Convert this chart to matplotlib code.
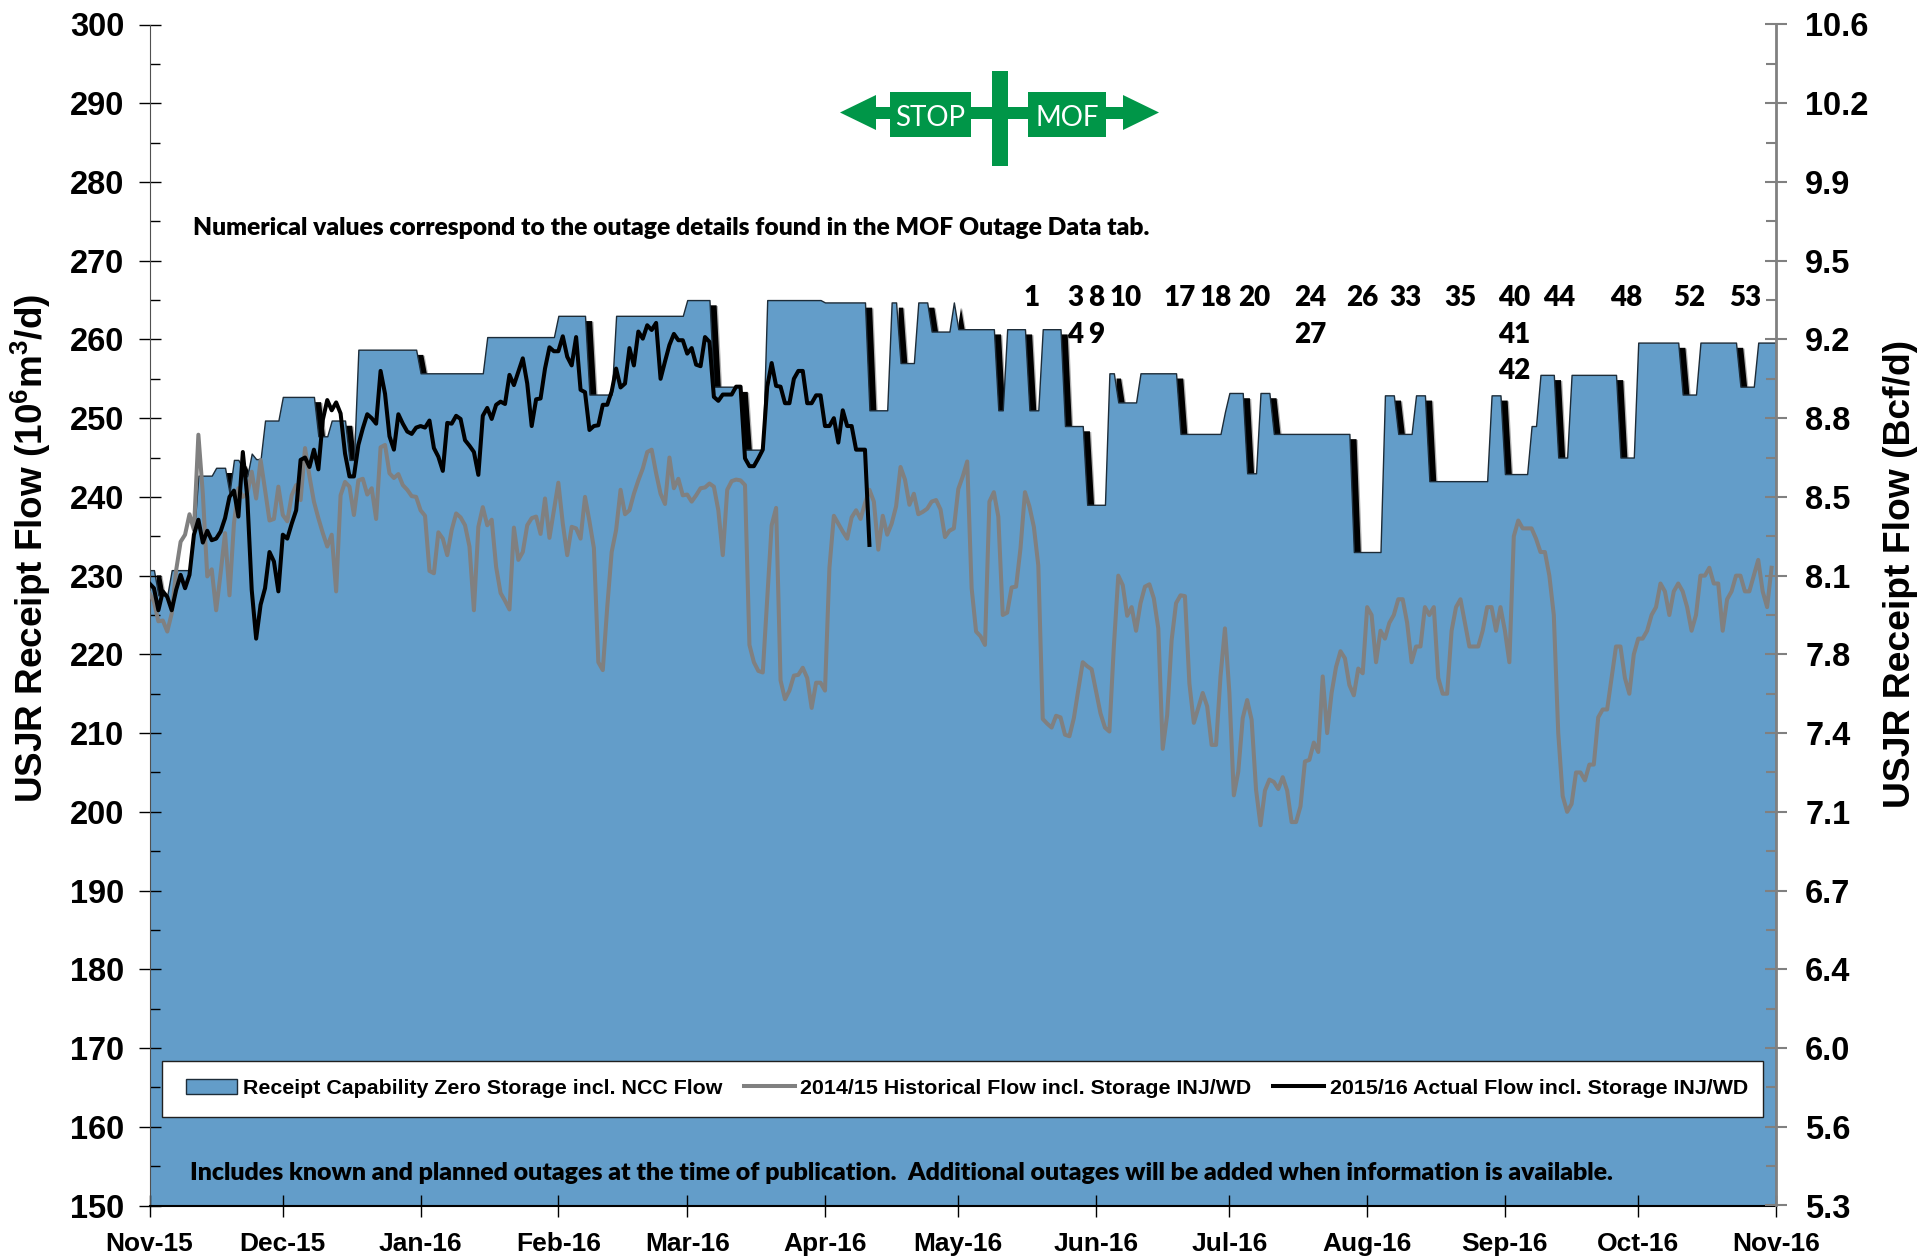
#!/usr/bin/env python
# -*- coding: utf-8 -*-

import numpy as np
import matplotlib
matplotlib.use('Agg')
import matplotlib.pyplot as plt
from matplotlib.patches import Patch, Polygon, Rectangle
from matplotlib.lines import Line2D

plt.rcParams['font.family'] = 'Liberation Sans'
plt.rcParams['font.weight'] = 'bold'
plt.rcParams['mathtext.fontset'] = 'custom'
plt.rcParams['mathtext.bf'] = 'Liberation Sans:bold'
plt.rcParams['mathtext.rm'] = 'Liberation Sans:bold'

W, H = 1921, 1257

month_labels = ['Nov-15', 'Dec-15', 'Jan-16', 'Feb-16', 'Mar-16', 'Apr-16', 'May-16',
                'Jun-16', 'Jul-16', 'Aug-16', 'Sep-16', 'Oct-16', 'Nov-16']
month_days = [0, 30, 61, 92, 121, 152, 182, 213, 243, 274, 305, 335, 366]

# Capability outline, days since 1 Nov 2015
cap_days = [0, 1, 2, 4, 5, 9, 10, 11, 14, 15, 17, 18, 19, 20, 22, 23, 24, 25, 26, 29, 30, 37, 38, 40, 41, 44, 45,
            46, 47, 60, 61, 75, 76, 91, 92, 98, 99, 104, 105, 120, 121, 126, 127, 133, 134, 138, 139, 151, 152,
            161, 162, 166, 167, 168, 169, 172, 173, 175, 176, 180, 181, 182, 190, 191, 192, 193, 197, 198, 200,
            201, 205, 206, 210, 211, 215, 216, 217, 218, 222, 223, 231, 232, 241, 242, 243, 246, 247, 249, 250,
            252, 253, 270, 271, 277, 278, 280, 281, 284, 285, 287, 288, 301, 302, 304, 305, 310, 311, 312, 313,
            316, 317, 319, 320, 330, 331, 334, 335, 344, 345, 348, 349, 357, 358, 361, 362, 366]
cap_vals = [230.7, 230.7, 227.5, 227.5, 230.7, 230.7, 235.3, 242.7, 242.7, 243.7, 243.7, 240.5, 244.7, 244.7, 242.6,
            245.5, 244.8, 244.8, 249.7, 249.7, 252.7, 252.7, 247.7, 247.7, 249.7, 249.7, 244.7,
            244.7, 258.7, 258.7, 255.7, 255.7, 260.3, 260.3, 263, 263, 253, 253, 263, 263, 265, 265, 254, 254, 246,
            246, 265, 265, 264.7,
            264.7, 251, 251, 264.7, 264.7, 257, 257, 264.7, 264.7, 261, 261, 264.7, 261.3, 261.3, 251, 251, 261.3,
            261.3, 251, 251,
            261.3, 261.3, 249, 249, 239, 239, 255.7, 255.7, 252, 252, 255.7, 255.7, 248, 248, 250.8, 253.2, 253.2,
            243, 243, 253.2,
            253.2, 248, 248, 233, 233, 252.9, 252.9, 248, 248, 252.9, 252.9, 242, 242, 252.9, 252.9, 242.9, 242.9,
            249, 249, 255.5,
            255.5, 245, 245, 255.5, 255.5, 245, 245, 259.6, 259.6, 253, 253, 259.6, 259.6, 254, 254, 259.6, 259.6]

# 2014/15 historical flow, one value per day
hist_flow = [227.8, 226.7, 224.2, 224.3, 222.9, 225.2, 230.7, 234.3, 235.2, 237.8,
             235.8, 247.9, 240.4, 229.9, 230.8, 225.6, 230.3, 235.4, 227.5, 236.6,
             241.1, 240, 240.4, 243.2, 239.8, 244.7, 240.9, 237, 237.2, 241.3,
             237.7, 236.9, 240.2, 241.5, 239.6, 246.2, 242.6, 239.4, 237.3, 235.4,
             233.7, 235.2, 228, 240.2, 241.9, 241.3, 237.7, 242.1, 242.3, 240.3,
             241.1, 237.2, 246.3, 246.6, 243, 242.4, 242.9, 241.5, 240.9, 240.1,
             240, 238.3, 237.6, 230.6, 230.3, 235.5, 234.7, 232.6, 235.8, 237.9,
             237.4, 236.4, 233.7, 225.6, 236.2, 238.7, 236.4, 237.1, 231.1, 227.8,
             226.8, 225.7, 236.1, 232, 233, 236.4, 237.3, 237.5, 235.3, 239.8,
             234.8, 238.3, 241.8, 236.6, 232.6, 236.2, 236, 234.7, 240, 236.9,
             233.5, 219, 218, 226, 233, 235.8, 240.9, 237.8, 238.3, 240.4,
             242.1, 243.6, 245.7, 246, 243, 240.4, 239.1, 245, 241.1, 242.3,
             240.2, 240.3, 239.4, 240.2, 241.1, 241.2, 241.7, 241.3, 238.3, 232.6,
             240.9, 242, 242.2, 242.1, 241.5, 221.2, 219, 217.9, 217.7, 227,
             236.4, 238.6, 216.7, 214.3, 215.4, 217.3, 217.4, 218.3, 217, 213.2,
             216.4, 216.4, 215.4, 231, 237.6, 236.6, 235.6, 234.7, 237.4, 238.3,
             237.2, 239.2, 240.9, 239.4, 233.3, 237.6, 235.2, 236.6, 238.8, 243.8,
             242.2, 239, 240.4, 237.8, 238.1, 238.5, 239.4, 239.6, 238.4, 234.9,
             235.7, 236, 241, 242.6, 244.5, 228.4, 222.9, 222.3, 221.2, 239.4,
             240.6, 237.5, 225, 225.3, 228.5, 228.6, 233.5, 240.6, 238.8, 236.2,
             231.3, 211.8, 211.2, 210.7, 212.2, 212, 209.8, 209.6, 211.9, 215.5,
             219, 218.5, 218.1, 215.3, 212.5, 210.7, 210.2, 221, 230, 228.8,
             224.9, 226, 223, 226.5, 228.6, 228.9, 227.1, 223.3, 208, 212.3,
             221.8, 226.5, 227.5, 227.4, 216.3, 211.3, 213.2, 215.1, 213.4, 208.5,
             208.5, 217.2, 223.3, 215.1, 202.1, 205.1, 211.9, 214.2, 211.7, 202.8,
             198.3, 202.7, 204.1, 203.8, 202.9, 204.4, 202.7, 198.7, 198.7, 200.7,
             206.4, 206.6, 208.8, 207.6, 217.2, 210, 215.1, 218.4, 220.4, 219.5,
             216.1, 214.8, 218.2, 217.6, 226, 225, 219, 223, 222, 224,
             225, 227, 227, 224, 219, 221, 221, 226, 225, 226,
             217, 215, 215, 223, 226, 227, 224, 221, 221, 221,
             223, 226, 226, 223, 226, 223, 219, 235, 237, 236,
             236, 236, 234.7, 233, 233, 230, 225, 210, 202, 200,
             201, 205, 205, 204, 206, 206, 212, 213, 213, 217,
             221, 221, 217, 215, 220, 222, 222, 223, 225, 226,
             229, 228, 225, 228, 229, 228, 226, 223, 225, 230,
             230, 231, 229, 229, 223, 227, 228, 230, 230, 228,
             228, 230, 232, 228, 226, 231]

# 2015/16 actual flow, one value per day up to the publication date
actual_flow = [229, 228.4, 225.6, 228, 227.3, 225.6, 228.2, 230.1, 228.4, 230.1,
               235.2, 237.1, 234.2, 235.7, 234.5, 234.7, 235.6, 237.3, 240, 240.8,
               237.5, 245.7, 240, 228.2, 222, 226.3, 228.4, 233, 231.8, 228,
               235.2, 234.7, 236.6, 238.3, 244.7, 245, 243.8, 246, 243.5, 249.8,
               252.3, 251, 252, 250.6, 245.5, 242.6, 242.6, 246.6, 248.7, 250.5,
               250, 249.3, 256, 253.1, 247.7, 246, 250.5, 249.3, 248.3, 248,
               248.8, 249, 248.8, 249.7, 246.2, 245.1, 243.3, 249.4, 249.3, 250.3,
               249.9, 247.2, 246.5, 245.7, 242.8, 250.3, 251.3, 249.9, 251.7, 252.1,
               251.8, 255.5, 254.2, 255.9, 257.6, 254.4, 249, 252.4, 252.5, 256.3,
               259, 258.5, 258.5, 260.4, 257.8, 256.7, 260.3, 253.6, 253.3, 248.5,
               249, 249.1, 251.7, 251.7, 253.4, 256.3, 253.9, 254.4, 258.9, 256.7,
               261, 260.1, 261.8, 261.2, 262.1, 255, 257.2, 259.3, 260.7, 259.9,
               259.9, 258.2, 258.9, 256.8, 256.6, 260.3, 259.7, 252.7, 252.2, 253,
               253, 253, 254, 254, 244.9, 243.9, 243.9, 244.9, 246, 254,
               257, 254.1, 254, 251.9, 251.9, 255, 256, 256, 251.9, 251.9,
               252.9, 252.9, 249, 249, 250, 246.9, 251, 249, 249, 246,
               246, 246, 233.9]

# Outage numbers above the area, by row
outage_row1 = ['1', '3', '8', '10', '17', '18', '20', '24', '26', '33', '35', '40', '44', '48', '52', '53']
outage_row1_days = [198.5, 208.3, 213, 219.7, 231.8, 239.8, 248.6, 261.3, 272.9, 282.5, 294.9, 307, 317.2, 332.2,
                    346.5, 359]
outage_row2 = ['4', '9', '27', '41']
outage_row2_days = [208.3, 213, 261.3, 307]
outage_row3 = ['42']
outage_row3_days = [307]

flow_ticks = np.arange(150, 301, 10)
flow_minor = np.arange(155, 300, 10)
bcf_per_e6m3 = 0.03531

area_col = '#639dc9'
green = '#009648'


def main():
    fig = plt.figure(figsize=(W / 100, H / 100), dpi=100)
    ax = fig.add_axes([149.5 / W, 1 - 1205.5 / H, 1626.5 / W, 1181 / H])

    days = np.array(cap_days, dtype=float)
    vals = np.array(cap_vals, dtype=float)

    # soft black shadow behind the area, only shows on the falling edges
    ax.fill_between(days + 1.8, 150, vals - 0.7, color='black', alpha=0.3, lw=0, zorder=0.8)
    ax.fill_between(days + 1.5, 150, vals - 0.6, color='black', lw=0, zorder=0.9)
    ax.fill_between(days, 150, vals, facecolor=area_col, edgecolor='#1d2c38', lw=1, zorder=1)

    ax.plot(np.arange(len(hist_flow)), hist_flow, color='#808080', lw=2.9, zorder=3)
    ax.plot(np.arange(len(actual_flow)), actual_flow, color='black', lw=2.9, zorder=4)

    ax.set_xlim(0, 366)
    ax.set_ylim(150, 300)
    ax.set_xticks(month_days)
    ax.set_xticklabels(month_labels, fontsize=19)
    ax.set_yticks(flow_ticks)
    ax.set_yticks(flow_minor, minor=True)
    ax.tick_params(axis='x', direction='inout', length=16, width=1, pad=11)
    ax.tick_params(axis='y', which='major', direction='inout', length=16, width=1, labelsize=23.5, pad=10)
    ax.tick_params(axis='y', which='minor', direction='in', length=7, width=1)
    ax.spines['top'].set_visible(False)
    ax.spines['right'].set_visible(False)
    ax.spines['left'].set_color('#505050')
    ax.spines['bottom'].set_linewidth(1.5)
    ax.set_ylabel(r'USJR Receipt Flow (10$\mathbf{^{6}}$m$\mathbf{^{3}}$/d)', fontsize=26.6, fontweight='bold')
    ax.yaxis.set_label_coords(-0.0595, 0.556)

    ax2 = ax.twinx()
    ax2.set_ylim(150 * bcf_per_e6m3, 300 * bcf_per_e6m3)
    ax2.set_yticks(flow_ticks * bcf_per_e6m3)
    ax2.set_yticklabels(['%.1f' % (v * bcf_per_e6m3) for v in flow_ticks])
    ax2.set_yticks(flow_minor * bcf_per_e6m3, minor=True)
    ax2.tick_params(axis='y', which='major', direction='inout', length=16, width=1.5, color='#808080',
                    labelsize=23.5, pad=13)
    ax2.tick_params(axis='y', which='minor', direction='in', length=7, width=1.5, color='#808080')
    for s in ['top', 'left', 'bottom']:
        ax2.spines[s].set_visible(False)
    ax2.spines['right'].set_color('#808080')
    ax2.spines['right'].set_linewidth(2)
    ax2.set_ylabel('USJR Receipt Flow (Bcf/d)', fontsize=26.8, fontweight='bold', rotation=90)
    ax2.yaxis.set_label_coords(1.0656, 0.535)

    # outage numbers
    for labels, where, level in ((outage_row1, outage_row1_days, 265.2),
                                 (outage_row2, outage_row2_days, 260.6),
                                 (outage_row3, outage_row3_days, 256.0)):
        for lab, d in zip(labels, where):
            ax2.text(d, level * bcf_per_e6m3, lab, family='Lato', fontsize=20, fontweight='heavy', ha='center',
                     va='center', zorder=6)

    fig.text(193 / W, 1 - 228 / H,
             'Numerical values correspond to the outage details found in the MOF Outage Data tab.',
             family='Lato', fontsize=17.7, fontweight='heavy', va='center')
    fig.text(190 / W, 1 - 1173 / H,
             'Includes known and planned outages at the time of publication.  '
             'Additional outages will be added when information is available.',
             family='Lato', fontsize=17.9, fontweight='heavy', va='center', zorder=6)

    # legend: white box, frameless legend on top of it
    ax2.add_patch(Rectangle(((162 - 149.5) / 1626.5, (1205.5 - 1117) / 1181), 1601 / 1626.5, 56 / 1181,
                            transform=ax2.transAxes, facecolor='white', edgecolor='#202020', lw=1, zorder=4.5))
    handles = [Patch(facecolor=area_col, edgecolor='#1d2c38', lw=1),
               Line2D([], [], color='#808080', lw=2.9),
               Line2D([], [], color='black', lw=2.9)]
    names = ['Receipt Capability Zero Storage incl. NCC Flow',
             '2014/15 Historical Flow incl. Storage INJ/WD',
             '2015/16 Actual Flow incl. Storage INJ/WD']
    leg = ax2.legend(handles, names, ncols=3, loc='center', fontsize=15.4, frameon=False,
                     bbox_to_anchor=((967 - 149.5) / 1626.5, (1205.5 - 1088) / 1181),
                     borderaxespad=0, borderpad=0, handlelength=2.4, handletextpad=0.25, columnspacing=1.0,
                     handleheight=0.7)
    leg.set_zorder(5)

    # STOP / MOF sign, drawn in figure pixels
    def fx(x):
        return x / W

    def fy(y):
        return 1 - y / H

    tf = fig.transFigure
    sign = [Rectangle((fx(876), fy(119)), 247 / W, 12 / H),
            Rectangle((fx(890), fy(137)), 81 / W, 45 / H),
            Rectangle((fx(1028), fy(137)), 78 / W, 45 / H),
            Rectangle((fx(992), fy(166)), 16 / W, 95 / H),
            Polygon([(fx(840), fy(112.5)), (fx(876), fy(95)), (fx(876), fy(130))]),
            Polygon([(fx(1159), fy(112.5)), (fx(1123), fy(95)), (fx(1123), fy(130))])]
    for p in sign:
        p.set(transform=tf, facecolor=green, edgecolor='none', zorder=7)
        fig.add_artist(p)
    fig.text(fx(930.5), fy(118), 'STOP', family='Lato', weight='normal', color='white', fontsize=20,
             ha='center', va='center', zorder=8)
    fig.text(fx(1067), fy(118), 'MOF', family='Lato', weight='normal', color='white', fontsize=20,
             ha='center', va='center', zorder=8)

    fig.savefig('out.png', dpi=100)


if __name__ == '__main__':
    main()
